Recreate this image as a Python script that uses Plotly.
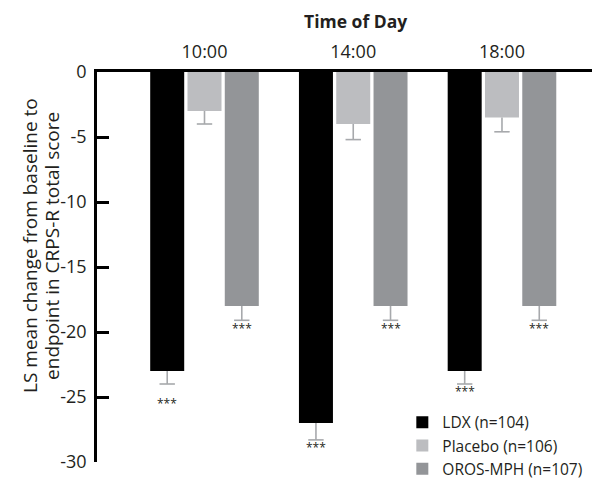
import plotly.graph_objects as go

times = ["10:00", "14:00", "18:00"]
series_names = ["LDX (n=104)", "Placebo (n=106)", "OROS-MPH (n=107)"]
ldx = [-23.0, -27.0, -23.0]
placebo = [-3.0, -4.0, -3.5]
oros = [-18.0, -18.0, -18.0]
ldx_err = [1.0, 1.3, 1.0]
placebo_err = [1.0, 1.2, 1.1]
oros_err = [1.1, 1.1, 1.1]
tick_vals = [0, -5, -10, -15, -20, -25, -30]
tick_text = ["0", "-5", "-10", "-15", "-20", "-25", "-30"]
star_label = "***"
y_title_lines = ["LS mean change from baseline to", "endpoint in CRPS-R total score"]

colors = ["#000000", "#bcbdc0", "#939598"]
ERR_COL = "#a7a9ac"
FONT = "Open Sans"
SLOT = 0.2507
BAR_W = 0.2286

fig = go.Figure()
xs = list(range(len(times)))
all_vals = [ldx, placebo, oros]
all_errs = [ldx_err, placebo_err, oros_err]
for k, (name, vals, errs, col) in enumerate(zip(series_names, all_vals, all_errs, colors)):
    shift = (k - 1) * SLOT
    fig.add_trace(go.Bar(
        x=xs, y=vals, name=name, width=BAR_W, offset=shift - BAR_W / 2,
        marker=dict(color=col, line=dict(width=0)),
        error_y=dict(type="data", symmetric=False, array=[0] * len(errs),
                     arrayminus=errs, color=ERR_COL, thickness=1.6, width=0),
    ))
# caps of error bars
for k, (vals, errs) in enumerate(zip(all_vals, all_errs)):
    shift = (k - 1) * SLOT
    fig.add_trace(go.Scatter(
        x=[i + shift for i in xs], y=[v - e for v, e in zip(vals, errs)],
        mode="markers", showlegend=False, hoverinfo="skip",
        marker=dict(symbol="line-ew", size=11, color=ERR_COL,
                    line=dict(color=ERR_COL, width=1.6)),
    ))

# page body has an 8px margin: figure is sized so that it ends at the window edge
fig.update_layout(
    barmode="overlay",
    width=592, height=478,
    margin=dict(l=89, r=0, t=64, b=24),
    plot_bgcolor="white", paper_bgcolor="white",
    font=dict(family=FONT, size=18, color="#231f20"),
    xaxis=dict(side="top", range=[-0.7227, 2.659], tickvals=xs, ticktext=times,
               showline=True, linecolor="black", linewidth=2.5, ticks="",
               showgrid=False, zeroline=False, tickfont=dict(size=18),
               automargin=False, ticklabelstandoff=4),
    yaxis=dict(range=[-30, 0], tickvals=tick_vals, ticktext=tick_text,
               showline=True, linecolor="black", linewidth=2.5, ticks="inside",
               ticklen=12, tickwidth=2.5, tickcolor="black", showgrid=False,
               zeroline=False, tickfont=dict(size=18), automargin=False,
               ticklabelstandoff=4),
    legend=dict(x=0.607, y=-0.061, xanchor="left", yanchor="bottom",
                font=dict(size=15.5), bgcolor="rgba(0,0,0,0)",
                itemwidth=30, tracegroupgap=0),
    showlegend=True,
)

fig.add_annotation(text="<b>Time of Day</b>", xref="paper", yref="paper",
                   x=0.514, y=1.131, xanchor="center", yanchor="middle",
                   showarrow=False, font=dict(size=17.5))
for line, px in zip(y_title_lines, (-0.1332, -0.0895)):
    fig.add_annotation(text=line, xref="paper", yref="paper", x=px, y=0.554,
                       textangle=-90, xanchor="center", yanchor="middle",
                       showarrow=False, font=dict(size=19))

# significance stars below LDX and OROS-MPH error bars
star_shift = {0: [-19, -8, -7], 2: [-8, -8, -8]}
for k in (0, 2):
    vals, errs = all_vals[k], all_errs[k]
    for i in xs:
        fig.add_annotation(x=i + (k - 1) * SLOT, y=vals[i] - errs[i], text=star_label,
                           showarrow=False, yanchor="middle", yshift=star_shift[k][i],
                           font=dict(size=12, color="#231f20"))

fig.write_html("out.html")
